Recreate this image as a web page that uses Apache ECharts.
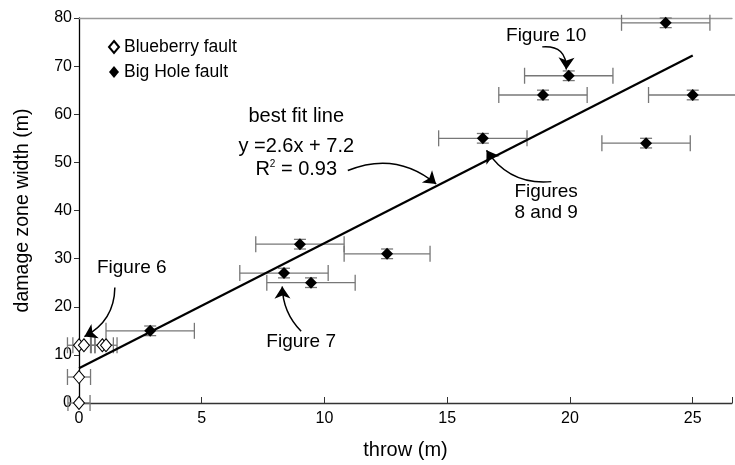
<!DOCTYPE html>
<html>
<head>
<meta charset="utf-8">
<script src="https://cdn.jsdelivr.net/npm/echarts@6/dist/echarts.min.js"></script>
<style>
html,body{margin:0;padding:0;background:#fff;}
#main{width:735px;height:465px;}
</style>
</head>
<body>
<div id="main"></div>
<script>
// Blueberry fault (open diamonds)
var blueX = [0, 0, 0, 0.2, 0.95, 1.1];
var blueY = [0, 5.4, 12, 12, 12, 12];
var blueXErr = [0.45, 0.47, 0.47, 0.45, 0.45, 0.45];

// Big Hole fault (filled diamonds)
var bigX = [2.9, 8.35, 9.45, 9.0, 12.55, 16.45, 18.9, 19.95, 23.1, 25.0, 23.9];
var bigY = [15, 27, 25, 33, 31, 55, 64, 68, 54, 64, 79];
var bigXErr = [1.8, 1.8, 1.8, 1.8, 1.75, 1.8, 1.8, 1.8, 1.8, 1.8, 1.8];
var bigYErr = [1, 1, 1, 1, 1, 1, 1, 1, 1, 1, 1];

// best fit line y = 2.6x + 7.2, end points
var fitX = [0, 25];
var fitY = [7.2, 72.2];

var xTicks = [0, 5, 10, 15, 20, 25];
var yTicks = [0, 10, 20, 30, 40, 50, 60, 70, 80];

// annotation arrows: [fromX, fromY, toX, toY, curveness]
var arrows = [
  [18.87, 74.0, 19.85, 69.3, 0.55],
  [10.95, 48.3, 14.55, 45.5, 0.3],
  [19.24, 46.0, 16.6, 52.5, 0.3],
  [9.05, 14.9, 8.28, 24.2, 0.2],
  [1.46, 24.0, 0.22, 13.8, 0.3]
];
// annotation texts: [text, x, y, size]
var notes = [
  ['Figure 10', 19.03, 76.3, 19],
  ['best fit line', 8.85, 59.5, 20],
  ['y =2.6x + 7.2', 8.85, 53.3, 20],
  ['Figures', 19.03, 43.9, 19],
  ['8 and 9', 19.03, 39.6, 19],
  ['Figure 7', 9.05, 12.7, 19],
  ['Figure 6', 2.15, 28.2, 19]
];

var chart = echarts.init(document.getElementById('main'));
var FONT = '"Liberation Sans", Arial, sans-serif';
var errColor = '#777';

function zip(xs, ys, ex, ey){
  var out = [];
  for (var i = 0; i < xs.length; i++) {
    out.push([xs[i], ys[i], ex ? ex[i] : 0, ey ? ey[i] : 0]);
  }
  return out;
}

function renderErr(params, api){
  var x = api.value(0), y = api.value(1), ex = api.value(2), ey = api.value(3);
  var l = api.coord([x - ex, y]), r = api.coord([x + ex, y]);
  var st = {stroke: errColor, lineWidth: 1.3};
  var ch = 8, cw = 6;
  var kids = [
    {type: 'line', shape: {x1: l[0], y1: l[1], x2: r[0], y2: r[1]}, style: st},
    {type: 'line', shape: {x1: l[0], y1: l[1] - ch, x2: l[0], y2: l[1] + ch}, style: st},
    {type: 'line', shape: {x1: r[0], y1: r[1] - ch, x2: r[0], y2: r[1] + ch}, style: st}
  ];
  if (ey > 0) {
    var t = api.coord([x, y + ey]), b = api.coord([x, y - ey]);
    kids.push({type: 'line', shape: {x1: t[0], y1: t[1], x2: b[0], y2: b[1]}, style: st});
    kids.push({type: 'line', shape: {x1: t[0] - cw, y1: t[1], x2: t[0] + cw, y2: t[1]}, style: st});
    kids.push({type: 'line', shape: {x1: b[0] - cw, y1: b[1], x2: b[0] + cw, y2: b[1]}, style: st});
  }
  return {type: 'group', children: kids};
}

var fitData = [];
for (var i = 0; i < fitX.length; i++) fitData.push([fitX[i], fitY[i]]);

var arrowData = arrows.map(function(a){
  return {coords: [[a[0], a[1]], [a[2], a[3]]], lineStyle: {curveness: a[4]}};
});

var option = {
  animation: false,
  backgroundColor: '#fff',
  textStyle: {fontFamily: FONT},
  grid: {left: 79, right: 0, top: 18, bottom: 61},
  legend: {
    orient: 'vertical', left: 103, top: 33, itemGap: 7,
    itemWidth: 10, itemHeight: 12,
    textStyle: {fontSize: 17.5, color: '#000', fontFamily: FONT},
    data: ['Blueberry fault', 'Big Hole fault']
  },
  xAxis: [{
    type: 'value', min: 0, max: 26.6, interval: 5,
    name: 'throw (m)', nameLocation: 'middle', nameGap: 37,
    nameTextStyle: {fontSize: 20, color: '#000', fontFamily: FONT},
    axisLine: {onZero: false, lineStyle: {color: '#333', width: 1.3}},
    axisTick: {inside: true, length: 6, lineStyle: {color: '#333'}},
    axisLabel: {fontSize: 16, color: '#000', margin: 8, fontFamily: FONT,
      formatter: function(v){ return xTicks.indexOf(v) >= 0 ? String(v) : ''; }},
    splitLine: {show: false}
  }, {
    type: 'value', min: 0, max: 26.6, position: 'top',
    axisLine: {show: true, onZero: false, lineStyle: {color: '#999', width: 1.3}},
    axisTick: {show: false}, axisLabel: {show: false}, splitLine: {show: false}
  }],
  yAxis: {
    type: 'value', min: 0, max: 80, interval: 10,
    name: 'damage zone width (m)', nameLocation: 'middle', nameGap: 46,
    nameTextStyle: {fontSize: 19.5, color: '#000', fontFamily: FONT},
    axisLine: {show: true, onZero: false, lineStyle: {color: '#000', width: 1.3}},
    axisTick: {show: true, length: 5, lineStyle: {color: '#333'}},
    axisLabel: {fontSize: 16, color: '#000', margin: 7, fontFamily: FONT,
      formatter: function(v){ return yTicks.indexOf(v) >= 0 ? String(v) : ''; }},
    splitLine: {show: false}
  },
  series: [
    {
      type: 'line', data: fitData, symbol: 'none', z: 3,
      lineStyle: {color: '#000', width: 2.2}
    },
    {
      type: 'lines', coordinateSystem: 'cartesian2d', silent: true, z: 4,
      symbol: ['none', 'arrow'], symbolSize: 12,
      lineStyle: {color: '#000', width: 1.5, opacity: 1},
      data: arrowData
    },
    {type: 'custom', renderItem: renderErr, data: zip(bigX, bigY, bigXErr, bigYErr), clip: false, z: 2},
    {type: 'custom', renderItem: renderErr, data: zip(blueX, blueY, blueXErr, null), clip: false, z: 2},
    {
      name: 'Blueberry fault', type: 'scatter', symbol: 'diamond', symbolSize: [11, 13],
      data: zip(blueX, blueY), z: 5, clip: false,
      itemStyle: {color: '#fff', borderColor: '#000', borderWidth: 1, opacity: 1}
    },
    {
      name: 'Big Hole fault', type: 'scatter', symbol: 'diamond', symbolSize: [12, 12],
      data: zip(bigX, bigY), z: 5,
      itemStyle: {color: '#000', opacity: 1}
    }
  ]
};
chart.setOption(option);

// place annotation texts through the chart's own coordinate conversion
var texts = notes.map(function(n){
  var p = chart.convertToPixel({gridIndex: 0}, [n[1], n[2]]);
  return {
    type: 'text', x: p[0], y: p[1], z: 10,
    style: {text: n[0], fill: '#000', font: n[3] + 'px ' + FONT, align: 'center', verticalAlign: 'middle'}
  };
});
var rp = chart.convertToPixel({gridIndex: 0}, [8.85, 48.5]);
texts.push({
  type: 'text', x: rp[0], y: rp[1], z: 10,
  style: {
    text: '{a|R}{s|2}{a| = 0.93}', align: 'center', verticalAlign: 'middle',
    rich: {
      a: {fontSize: 20, fontFamily: FONT, color: '#000'},
      s: {fontSize: 10, fontFamily: FONT, color: '#000', verticalAlign: 'top', padding: [0, 0, 9, 0]}
    }
  }
});
chart.setOption({graphic: texts});
</script>
</body>
</html>
